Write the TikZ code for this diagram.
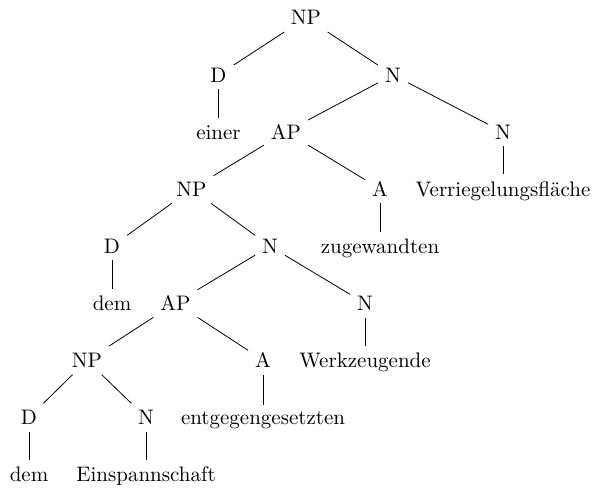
\documentclass[tikz,border=0pt]{standalone}
\usepackage{tikz}

\begin{document}
\begin{tikzpicture}[x=0.5pt, y=-0.5pt, every node/.style={font=\fontsize{10.5}{12.6}\selectfont}]
  \tikzstyle{cat} = [anchor=base]
  \tikzstyle{word} = [anchor=base]
  \tikzstyle{edge} = [draw=black, line width=0.4pt]

  \useasboundingbox (0,0) rectangle (596,498);

  % categories
  \node (np1) [cat] at (306,25) {NP};
  \node (d1) [cat] at (218.5,82.1) {D};
  \node (n1) [cat] at (393,82.1) {N};
  \node (einer) [word] at (218.5,139.2) {einer};
  \node (ap1) [cat] at (286,139.2) {AP};
  \node (n2) [cat] at (503,139.2) {N};
  \node (np2) [cat] at (191.5,196.3) {NP};
  \node (a1) [cat] at (380,196.3) {A};
  \node (verr) [word] at (503,196.3) {Verriegelungsfläche};
  \node (d2) [cat] at (112,253.4) {D};
  \node (n3) [cat] at (270,253.4) {N};
  \node (zug) [word] at (380,253.4) {zugewandten};
  \node (dem1) [word] at (112,310.5) {dem};
  \node (ap2) [cat] at (175.5,310.5) {AP};
  \node (n4) [cat] at (365,310.5) {N};
  \node (np3) [cat] at (87,367.6) {NP};
  \node (a2) [cat] at (263,367.6) {A};
  \node (werk) [word] at (365,367.6) {Werkzeugende};
  \node (d3) [cat] at (29,424.7) {D};
  \node (n5) [cat] at (146,424.7) {N};
  \node (entg) [word] at (263,424.7) {entgegengesetzten};
  \node (dem2) [word] at (29,481.8) {dem};
  \node (einsp) [word] at (146,481.8) {Einspannschaft};

  % branches
  \draw [edge] (np1) -- (d1);
  \draw [edge] (np1) -- (n1);
  \draw [edge] (d1) -- (einer);
  \draw [edge] (n1) -- (ap1);
  \draw [edge] (n1) -- (n2);
  \draw [edge] (n2) -- (verr);
  \draw [edge] (ap1) -- (np2);
  \draw [edge] (ap1) -- (a1);
  \draw [edge] (a1) -- (zug);
  \draw [edge] (np2) -- (d2);
  \draw [edge] (np2) -- (n3);
  \draw [edge] (d2) -- (dem1);
  \draw [edge] (n3) -- (ap2);
  \draw [edge] (n3) -- (n4);
  \draw [edge] (n4) -- (werk);
  \draw [edge] (ap2) -- (np3);
  \draw [edge] (ap2) -- (a2);
  \draw [edge] (a2) -- (entg);
  \draw [edge] (np3) -- (d3);
  \draw [edge] (np3) -- (n5);
  \draw [edge] (d3) -- (dem2);
  \draw [edge] (n5) -- (einsp);
\end{tikzpicture}
\end{document}
